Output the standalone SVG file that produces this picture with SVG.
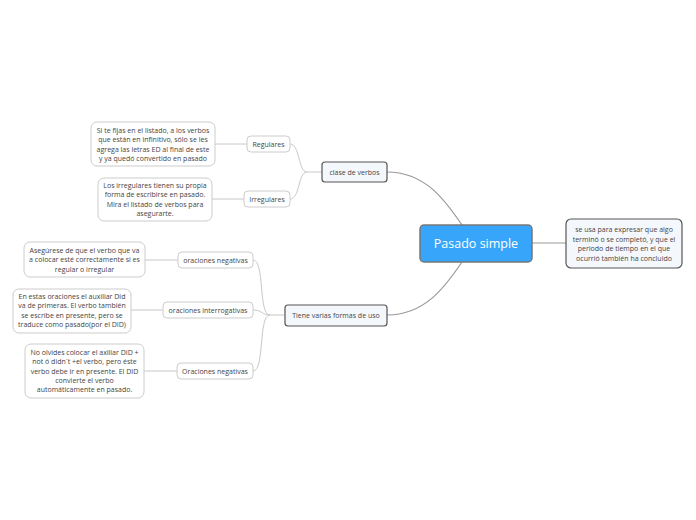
<svg xmlns="http://www.w3.org/2000/svg" width="696" height="520" viewBox="0 0 696 520">
<style>
text{font-family:"Open Sans","Noto Sans","DejaVu Sans",sans-serif;fill:#444;text-anchor:middle}
.s{font-size:7px}
.leaf{fill:#fff;stroke:#ccc;stroke-width:1}
.sub{fill:#f4f8fd;stroke:#555;stroke-width:1.2}
.c1{fill:none;stroke:#999;stroke-width:1.2}
.c2{fill:none;stroke:#c8c8c8;stroke-width:1}
</style>
<rect width="696" height="520" fill="#fff"/>
<g id="connectors">
<path class="c1" d="M462,225 C445,200 425,172 387,172"/>
<path class="c1" d="M462,262 C445,287 425,315 387,315"/>
<path class="c1" d="M532,243 L566,243"/>
<path class="c2" d="M322,172 L307,172 C298,172 300,144 290,144"/>
<path class="c2" d="M307,172 C298,172 300,199 290,199"/>
<path class="c2" d="M247,144 L215,144"/>
<path class="c2" d="M244,199 L212,199"/>
<path class="c2" d="M285,315 L270,315 C258,315 265,260 253,260"/>
<path class="c2" d="M270,315 C262,315 262,310 253,310"/>
<path class="c2" d="M270,315 C258,315 265,371 253,371"/>
<path class="c2" d="M178,260 L145,260"/>
<path class="c2" d="M163,310 L131,310"/>
<path class="c2" d="M177,371 L144,371"/>
</g>
<g id="central">
<rect x="420" y="225" width="112" height="37" rx="4" fill="#37a6fa" stroke="#777" stroke-width="1.5"/>
<text x="476" y="248" style="font-size:12.5px;fill:#fff">Pasado simple</text>
</g>
<g id="definicion">
<rect class="sub" x="566" y="219" width="116" height="49" rx="5"/>
<text class="s" x="624" y="232">se usa para expresar que algo</text>
<text class="s" x="624" y="241.5">terminó o se completó, y que el</text>
<text class="s" x="624" y="251">periodo de tiempo en el que</text>
<text class="s" x="624" y="260.5">ocurrió también ha concluido</text>
</g>
<g id="clase">
<rect class="sub" x="322" y="162" width="65" height="20" rx="3"/>
<text class="s" x="354.5" y="174.5">clase de verbos</text>
</g>
<g id="tiene">
<rect class="sub" x="285" y="305" width="102" height="21" rx="3"/>
<text class="s" x="336" y="318">Tiene varias formas de uso</text>
</g>
<g id="regulares">
<rect class="leaf" x="247" y="136" width="43" height="16" rx="4"/>
<text class="s" x="268.5" y="146.5">Regulares</text>
</g>
<g id="irregulares">
<rect class="leaf" x="244" y="191" width="46" height="16" rx="4"/>
<text class="s" x="267" y="201.5">Irregulares</text>
</g>
<g id="reg-texto">
<rect class="leaf" x="91" y="122" width="124" height="44" rx="6"/>
<text class="s" x="153" y="133">Si te fijas en el listado, a los verbos</text>
<text class="s" x="153" y="142.3">que están en infinitivo, sólo se les</text>
<text class="s" x="153" y="151.6">agrega las letras ED al final de este</text>
<text class="s" x="153" y="160.9">y ya quedó convertido en pasado</text>
</g>
<g id="irreg-texto">
<rect class="leaf" x="98" y="178" width="114" height="43" rx="6"/>
<text class="s" x="155" y="188">Los irregulares tienen su propia</text>
<text class="s" x="155" y="197.3">forma de escribirse en pasado.</text>
<text class="s" x="155" y="206.6">Mira el listado de verbos para</text>
<text class="s" x="155" y="215.9">asegurarte.</text>
</g>
<g id="neg1">
<rect class="leaf" x="178" y="252" width="75" height="16" rx="4"/>
<text class="s" x="215.5" y="262.5">oraciones negativas</text>
</g>
<g id="interrog">
<rect class="leaf" x="163" y="302" width="90" height="16" rx="4"/>
<text class="s" x="208" y="312.5">oraciones interrogativas</text>
</g>
<g id="neg2">
<rect class="leaf" x="177" y="363" width="76" height="16" rx="4"/>
<text class="s" x="215" y="373.5">Oraciones negativas</text>
</g>
<g id="neg1-texto">
<rect class="leaf" x="24" y="242" width="121" height="35" rx="6"/>
<text class="s" x="84.5" y="253">Asegúrese de que el verbo que va</text>
<text class="s" x="84.5" y="262.3">a colocar esté correctamente si es</text>
<text class="s" x="84.5" y="271.6">regular o irregular</text>
</g>
<g id="interrog-texto">
<rect class="leaf" x="13" y="289" width="118" height="44" rx="6"/>
<text class="s" x="72" y="299">En estas oraciones el auxiliar Did</text>
<text class="s" x="72" y="308.3">va de primeras. El verbo también</text>
<text class="s" x="72" y="317.6">se escribe en presente, pero se</text>
<text class="s" x="72" y="326.9">traduce como pasado(por el DID)</text>
</g>
<g id="neg2-texto">
<rect class="leaf" x="25" y="344" width="119" height="54" rx="6"/>
<text class="s" x="84.5" y="355">No olvides colocar el axiliar DID +</text>
<text class="s" x="84.5" y="364.3">not ó didn´t +el verbo, pero éste</text>
<text class="s" x="84.5" y="373.6">verbo debe ir en presente. El DID</text>
<text class="s" x="84.5" y="382.9">convierte el verbo</text>
<text class="s" x="84.5" y="392.2">automáticamente en pasado.</text>
</g>
</svg>
